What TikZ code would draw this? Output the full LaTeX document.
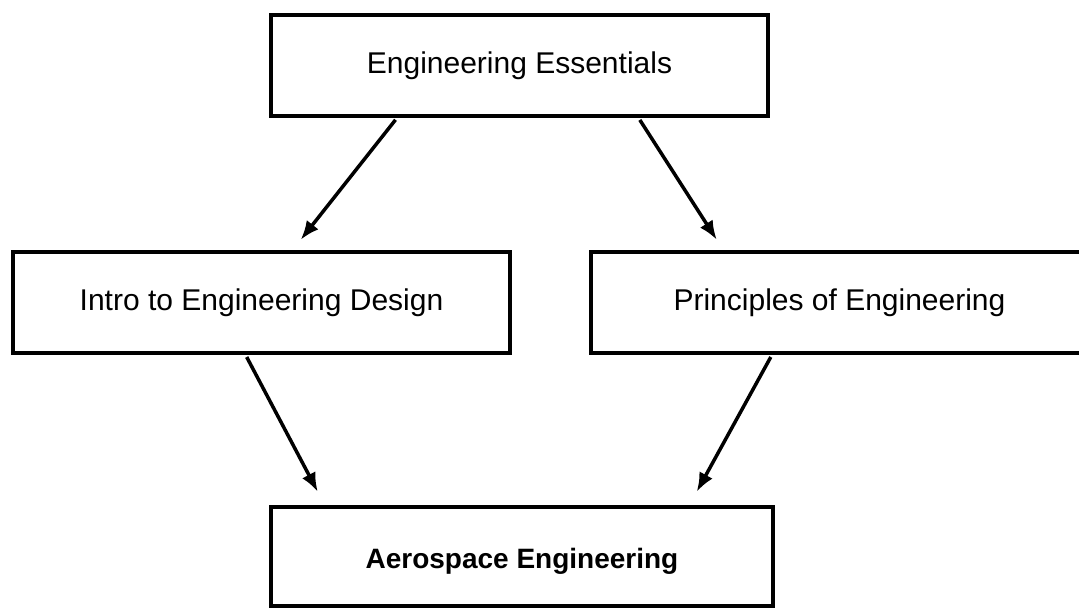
\documentclass[tikz,border=0pt]{standalone}
\usepackage{fontspec}
\setmainfont{Liberation Sans}
\usetikzlibrary{arrows.meta}
\tikzset{
  box/.style={draw=black, line width=4.5pt, rectangle, inner sep=0pt,
    minimum width=497pt, minimum height=101pt, align=center,
    font=\fontsize{30}{36}\selectfont},
  conn/.style={line width=3.5pt, -{Latex[length=19pt,width=15pt]}, shorten <=2pt}
}
\begin{document}
\begin{tikzpicture}[x=1pt,y=-1pt]
\useasboundingbox (0,0) rectangle (1079,608);
\fill[white] (0,0) rectangle (1079,608);
\clip (0,0) rectangle (1079,608);
\node[box] (top) at (519.5,65.5) {Engineering Essentials};
\node[box] (left) at (261.5,302.5) {Intro to Engineering Design};
\node[box] (right) at (839.5,302.5) {Principles of Engineering};
\node[box, minimum width=502pt, minimum height=99pt, text depth=0pt,
  font=\fontsize{28}{34}\selectfont\bfseries] (bottom) at (522,556.5) {\raisebox{-3pt}{Aerospace Engineering}};
\draw[conn] ([xshift=128pt]top.south west) -- ([xshift=290pt,yshift=10pt]left.north west);
\draw[conn] ([xshift=370pt]top.south west) -- ([xshift=128pt,yshift=10pt]right.north west);
\draw[conn] ([xshift=235pt]left.south west) -- ([xshift=49pt,yshift=13pt]bottom.north west);
\draw[conn] ([xshift=183pt]right.south west) -- ([xshift=428pt,yshift=13pt]bottom.north west);
\end{tikzpicture}
\end{document}
